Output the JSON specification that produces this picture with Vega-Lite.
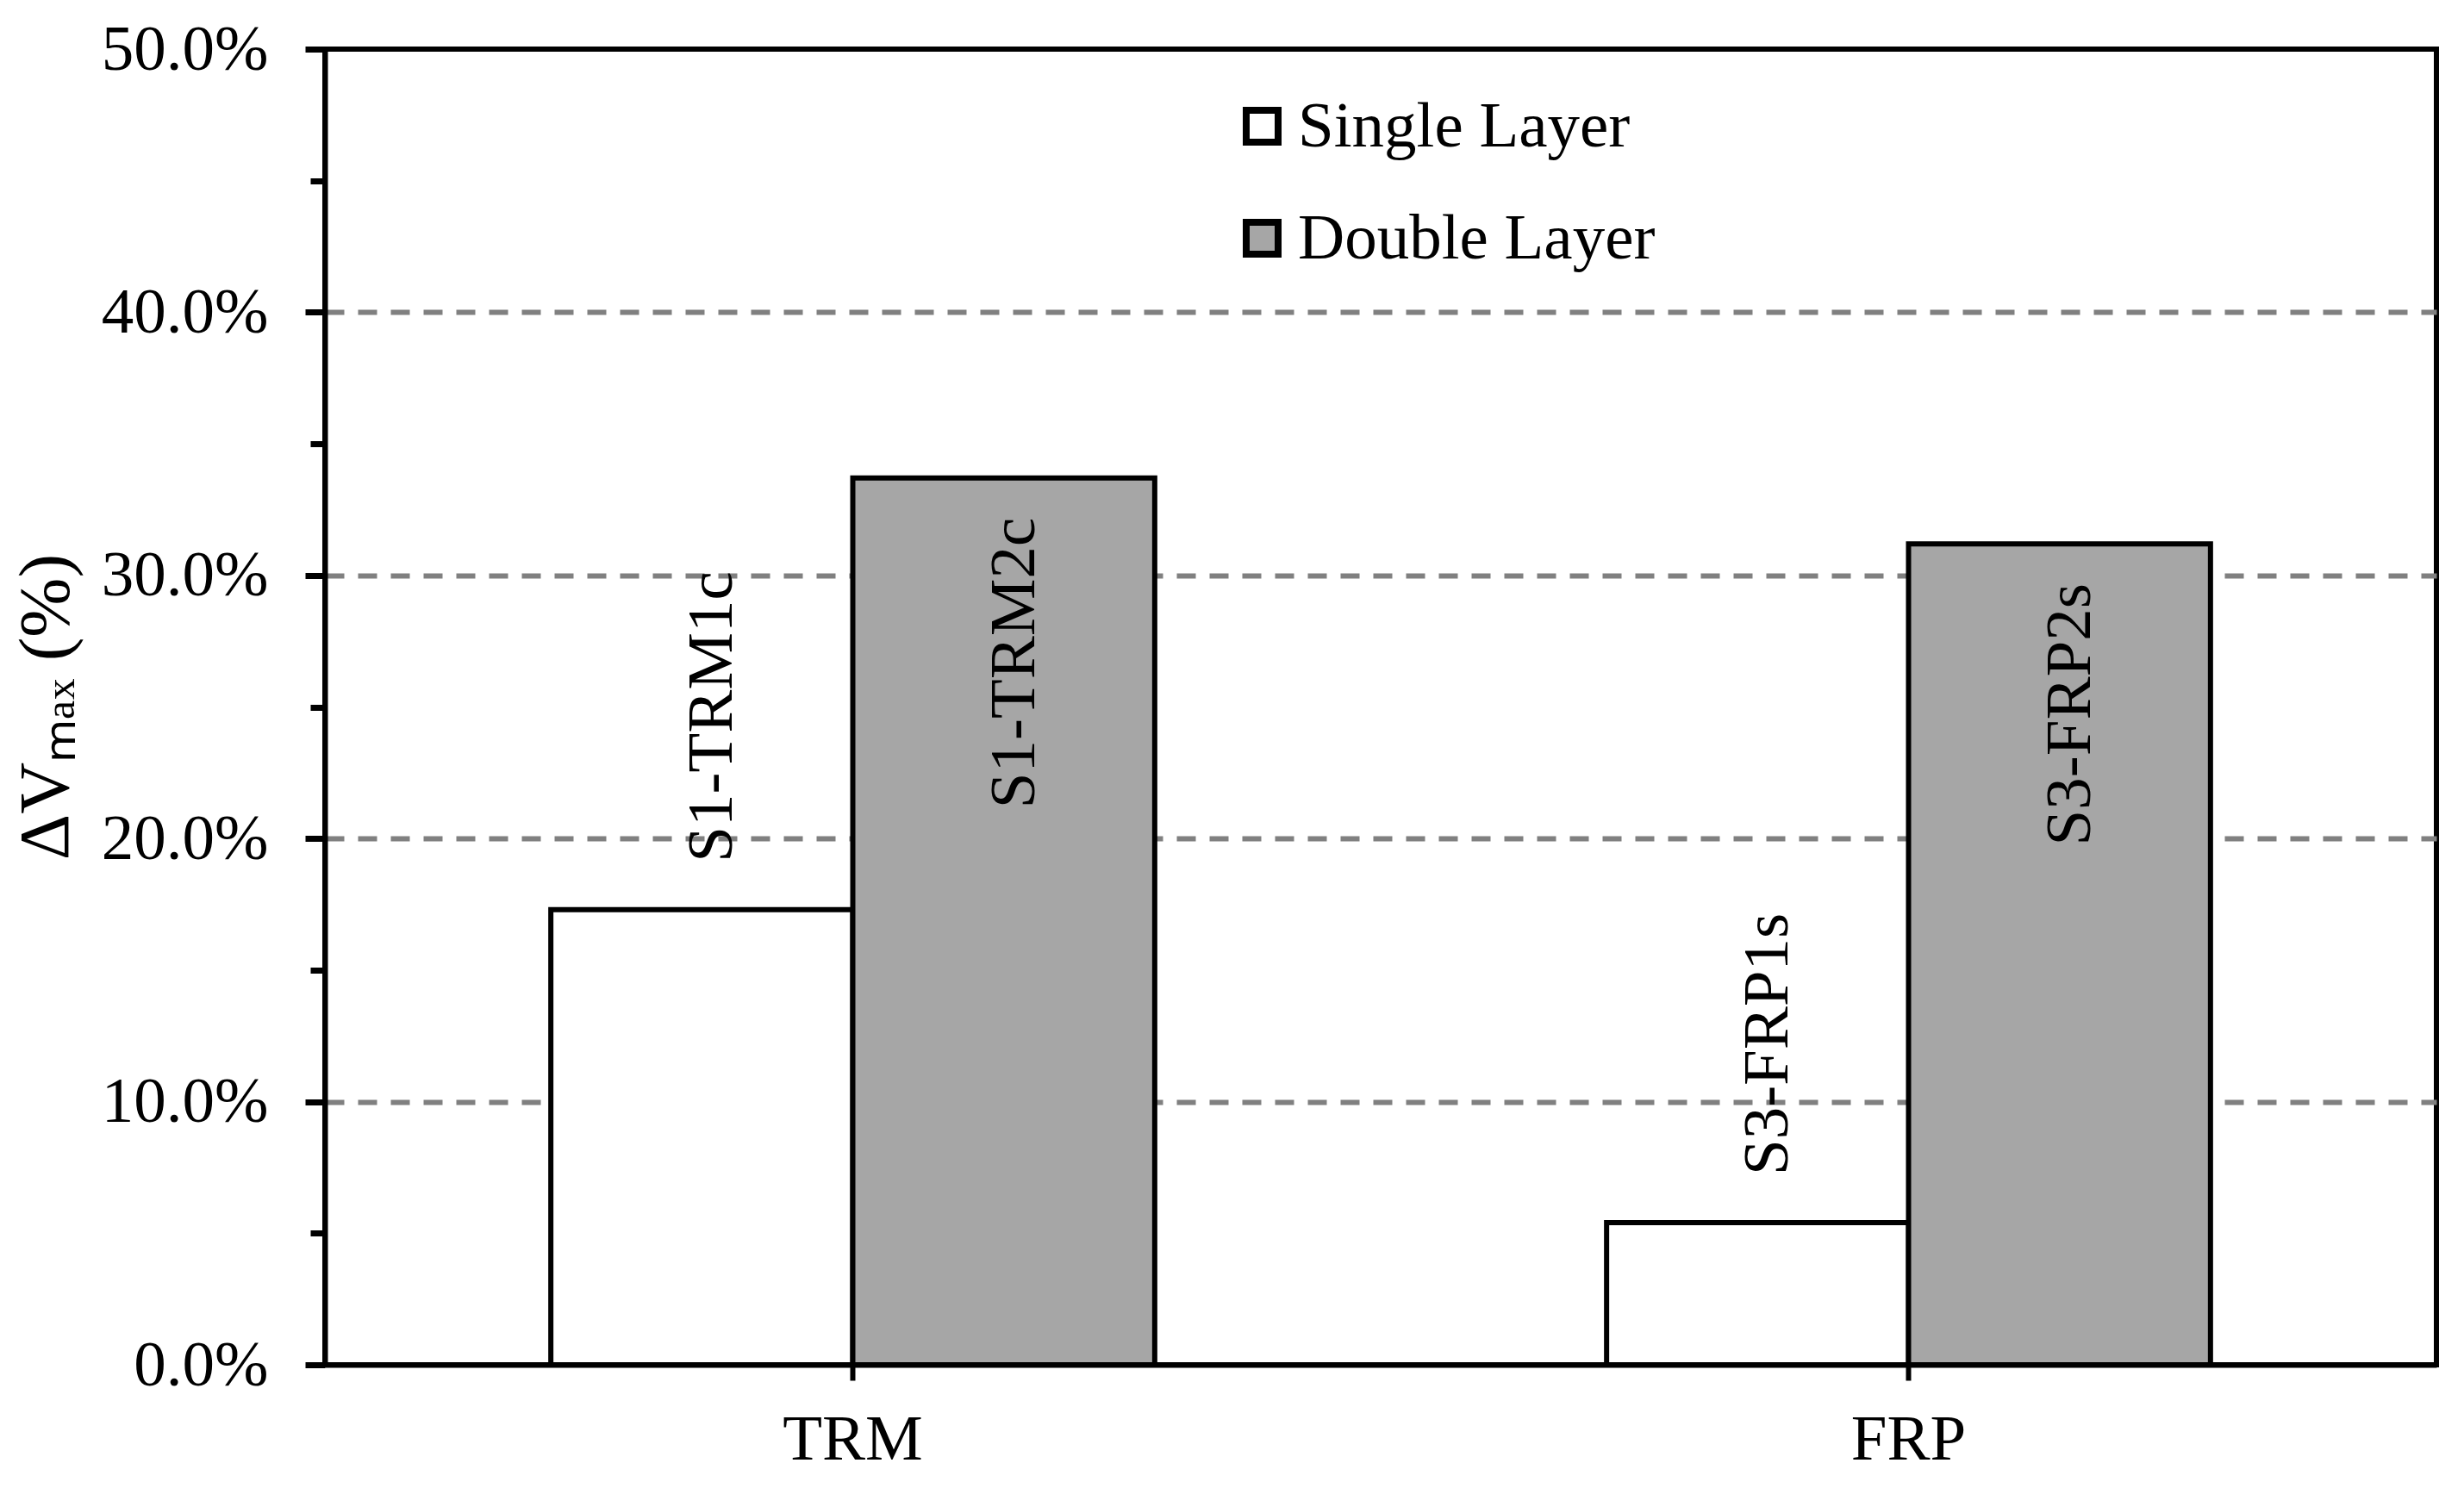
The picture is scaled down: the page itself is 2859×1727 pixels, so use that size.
{
  "$schema": "https://vega.github.io/schema/vega-lite/v6.json",
  "width": 2450,
  "height": 1527,
  "autosize": {"type": "none"},
  "padding": {"left": 377, "top": 57, "right": 32, "bottom": 143},
  "background": "white",
  "config": {
    "font": "Times New Roman, Liberation Serif, serif",
    "view": {"stroke": "black", "strokeWidth": 6},
    "axis": {"labelFont": "Times New Roman, Liberation Serif, serif", "titleFont": "Times New Roman, Liberation Serif, serif", "labelColor": "black", "titleColor": "black", "labelLimit": 0},
    "legend": {"labelLimit": 0}
  },
  "data": {
    "values": [
      {"category": "TRM", "layer": "Single Layer", "value": 0.173, "label": "S1-TRM1c"},
      {"category": "TRM", "layer": "Double Layer", "value": 0.337, "label": "S1-TRM2c"},
      {"category": "FRP", "layer": "Single Layer", "value": 0.054, "label": "S3-FRP1s"},
      {"category": "FRP", "layer": "Double Layer", "value": 0.312, "label": "S3-FRP2s"}
    ]
  },
  "encoding": {
    "x": {
      "field": "category", "type": "nominal", "sort": ["TRM", "FRP"],
      "scale": {"paddingInner": 0.428, "paddingOuter": 0.214},
      "axis": {
        "title": null, "labelAngle": 0, "labelFontSize": 75, "labelPadding": 32,
        "domainColor": "black", "domainWidth": 6, "tickColor": "black", "tickWidth": 6, "tickSize": 18
      }
    },
    "xOffset": {"field": "layer", "type": "nominal", "sort": ["Single Layer", "Double Layer"], "scale": {"paddingInner": 0, "paddingOuter": 0}},
    "y": {
      "field": "value", "type": "quantitative",
      "scale": {"domain": [0, 0.5], "nice": false},
      "axis": {
        "values": [0, 0.05, 0.1, 0.15, 0.2, 0.25, 0.3, 0.35, 0.4, 0.45, 0.5],
        "labelExpr": "(round(datum.value*100) % 10 === 0) ? format(datum.value, '.1%') : ''",
        "labelFontSize": 75, "labelPadding": 43,
        "domainColor": "black", "domainWidth": 6, "tickColor": "black", "tickWidth": 7,
        "tickSize": {"condition": {"test": "round(datum.value*100) % 10 === 0", "value": 23}, "value": 17},
        "grid": true, "gridColor": "#808080", "gridWidth": 6, "gridDash": [22, 16],
        "gridOpacity": {"condition": {"test": "round(datum.value*100) % 10 === 0 && datum.value > 0.001 && datum.value < 0.499", "value": 1}, "value": 0},
        "title": "ΔVₘₐₓ (%)", "titleFontSize": 83, "titleFontWeight": "normal",
        "titleAngle": 270, "titleX": -299, "titleY": 763, "titleAlign": "center", "titleBaseline": "alphabetic"
      }
    }
  },
  "layer": [
    {
      "mark": {"type": "bar", "stroke": "black", "strokeWidth": 6},
      "encoding": {
        "fill": {
          "field": "layer", "type": "nominal",
          "scale": {"domain": ["Single Layer", "Double Layer"], "range": ["#ffffff", "#a6a6a6"]},
          "legend": {
            "title": null, "orient": "none", "legendX": 1050, "legendY": 52,
            "labelFontSize": 75, "labelFont": "Times New Roman, Liberation Serif, serif", "labelColor": "black", "labelOffset": 4,
            "symbolType": "square", "symbolSize": 1370, "symbolStrokeColor": "black", "symbolStrokeWidth": 8,
            "rowPadding": 54
          }
        }
      }
    },
    {
      "transform": [{"filter": "datum.layer === 'Single Layer'"}],
      "mark": {"type": "text", "angle": 270, "align": "left", "baseline": "middle", "dx": 55, "dy": 12, "fontSize": 75, "font": "Times New Roman, Liberation Serif, serif", "color": "black"},
      "encoding": {"text": {"field": "label"}}
    },
    {
      "transform": [{"filter": "datum.layer === 'Double Layer'"}],
      "mark": {"type": "text", "angle": 270, "align": "right", "baseline": "middle", "dx": -46, "dy": 12, "fontSize": 75, "font": "Times New Roman, Liberation Serif, serif", "color": "black"},
      "encoding": {"text": {"field": "label"}}
    }
  ]
}
